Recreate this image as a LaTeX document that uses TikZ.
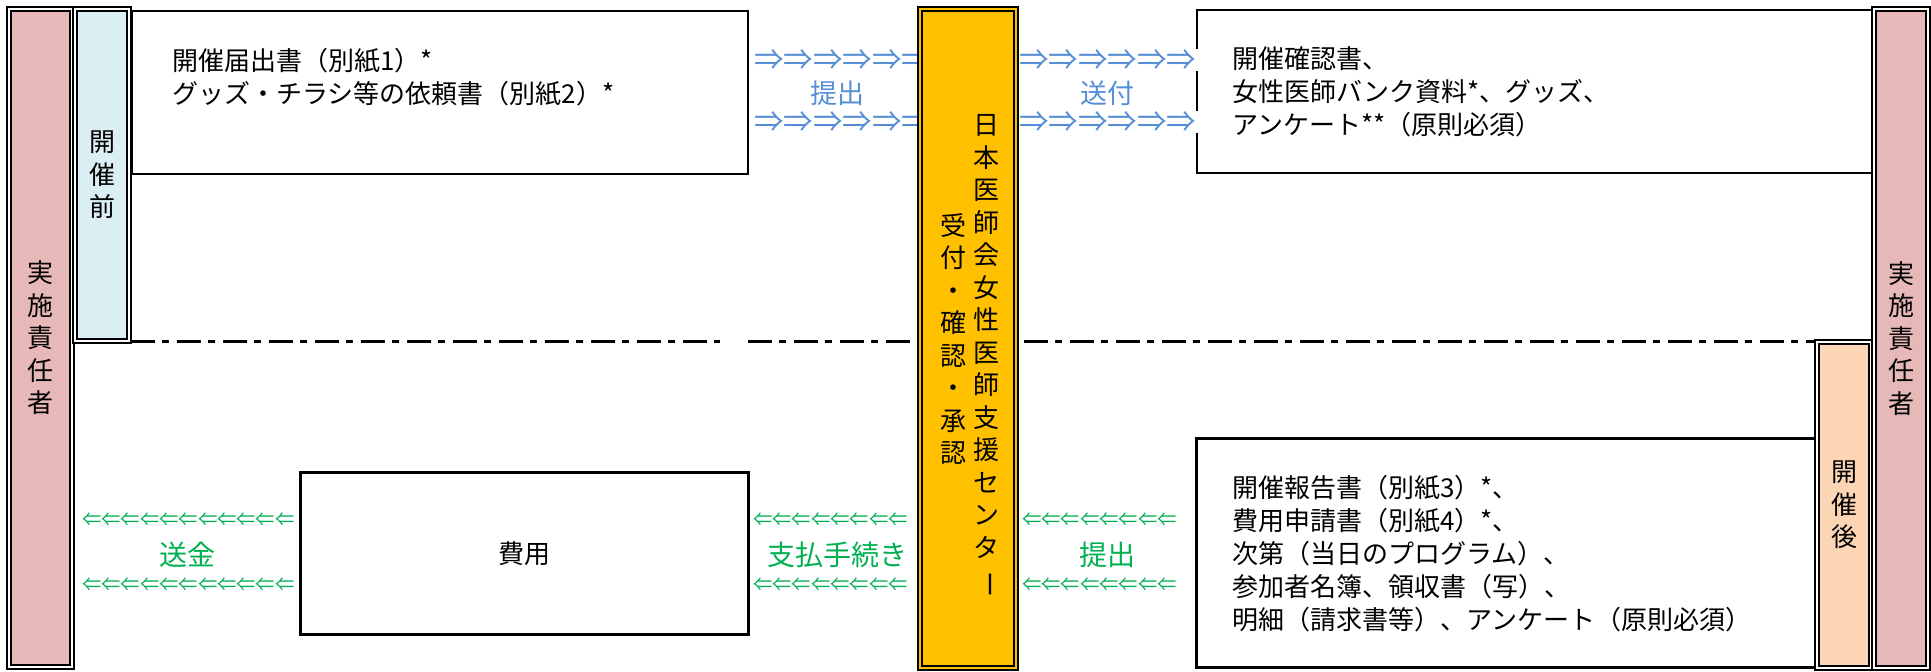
\documentclass[tikz,border=0pt]{standalone}
\usepackage{fontspec}
\setmainfont{Noto Sans CJK JP}
\definecolor{pinkbar}{HTML}{E6B9B8}
\definecolor{bluebar}{HTML}{DAEEF3}
\definecolor{peachbar}{HTML}{FCD5B5}
\definecolor{centerbar}{HTML}{FFC000}
\definecolor{sendblue}{HTML}{558ED5}
\definecolor{paygreen}{HTML}{00B050}
\tikzset{
  dblbox/.style={draw, double, line width=1.9pt, double distance=1.3pt, inner sep=0pt,
    align=center, font=\fontsize{26}{32.5}\selectfont},
  docbox/.style={draw, line width=2.8pt, fill=white, inner sep=0pt, font=\fontsize{26}{33}\selectfont},
  doctext/.style={align=left, anchor=west, inner sep=0pt, font=\fontsize{26}{33}\selectfont},
  bluearrow/.style={text=sendblue, anchor=west, inner sep=0pt, font=\fontsize{29.5}{30}\selectfont},
  greenarrow/.style={text=paygreen, anchor=west, inner sep=0pt, font=\fontsize{19.3}{20}\selectfont},
  bluelabel/.style={text=sendblue, inner sep=0pt, font=\fontsize{27}{30}\selectfont},
  greenlabel/.style={text=paygreen, inner sep=0pt, font=\fontsize{28}{30}\selectfont},
  divider/.style={line width=3pt, dash pattern=on 24pt off 7pt on 7pt off 8pt},
}
\begin{document}
\begin{tikzpicture}[x=1pt, y=-1pt]
\useasboundingbox (0,0) rectangle (1931,672);
% document boxes
\node[docbox, minimum width=616pt, minimum height=163pt] (notice) at (440,92.5) {};
\node[docbox, minimum width=675pt, minimum height=163pt] (confirm) at (1534.5,91.5) {};
\node[docbox, minimum width=448pt, minimum height=162pt] (cost) at (524.5,553.5) {費用};
\node[docbox, minimum width=619pt, minimum height=229pt] (report) at (1506,553) {};
\node[doctext] (noticetext) at (172,77.5) {開催届出書（別紙1）*\\グッズ・チラシ等の依頼書（別紙2）*};
\node[doctext] (confirmtext) at (1232,91.5) {開催確認書、\\女性医師バンク資料*、グッズ、\\アンケート**（原則必須）};
\node[doctext] (reporttext) at (1232,554) {開催報告書（別紙3）*、\\費用申請書（別紙4）*、\\次第（当日のプログラム）、\\参加者名簿、領収書（写）、\\明細（請求書等）、アンケート（原則必須）};
% before / after
\draw[divider] (131,341) -- (720,341);
\draw[divider] (748,341) -- (1815,341);
% flows
\node[bluearrow] (submitA) at (754,60) {⇒⇒⇒⇒⇒⇒};
\node[bluearrow] (submitB) at (754,122) {⇒⇒⇒⇒⇒⇒};
\node[bluelabel] (submit) at (837,93) {提出};
\node[bluearrow, fill=white, inner xsep=3pt, minimum height=22pt] (sendA) at (1016,60) {⇒⇒⇒⇒⇒⇒};
\node[bluearrow, fill=white, inner xsep=3pt, minimum height=22pt] (sendB) at (1016,122) {⇒⇒⇒⇒⇒⇒};
\node[bluelabel] (send) at (1107,93) {送付};
\node[greenarrow] (remitA) at (82,520) {⇐⇐⇐⇐⇐⇐⇐⇐⇐⇐⇐};
\node[greenarrow] (remitB) at (82,585) {⇐⇐⇐⇐⇐⇐⇐⇐⇐⇐⇐};
\node[greenlabel] (remit) at (187,555) {送金};
\node[greenarrow] (payA) at (753,520) {⇐⇐⇐⇐⇐⇐⇐⇐};
\node[greenarrow] (payB) at (753,585) {⇐⇐⇐⇐⇐⇐⇐⇐};
\node[greenlabel] (pay) at (837,555) {支払手続き};
\node[greenarrow] (returnA) at (1022,520) {⇐⇐⇐⇐⇐⇐⇐⇐};
\node[greenarrow] (returnB) at (1022,585) {⇐⇐⇐⇐⇐⇐⇐⇐};
\node[greenlabel] (return) at (1107,555) {提出};
% center
\node[dblbox, fill=centerbar, double=centerbar, minimum width=96pt, minimum height=659pt] (center) at (968,338.5) {};
\node[dblbox, draw=none, fill=none] (centername) at (986,356) {日\\本\\医\\師\\会\\女\\性\\医\\師\\支\\援\\セ\\ン\\タ\\\rotatebox[origin=c]{-90}{ー}};
\node[dblbox, draw=none, fill=none] (centerrole) at (953,339) {受\\付\\・\\確\\認\\・\\承\\認};
% side bars
\node[dblbox, fill=pinkbar, minimum width=63pt, minimum height=658pt] (ownerL) at (40.5,338) {実\\施\\責\\任\\者};
\node[dblbox, fill=bluebar, minimum width=54pt, minimum height=332pt] (before) at (102,175) {開\\催\\前};
\node[dblbox, fill=peachbar, minimum width=54pt, minimum height=326pt] (after) at (1844,505) {開\\催\\後};
\node[dblbox, fill=pinkbar, minimum width=54pt, minimum height=659pt] (ownerR) at (1901,338.5) {実\\施\\責\\任\\者};
\end{tikzpicture}
\end{document}
